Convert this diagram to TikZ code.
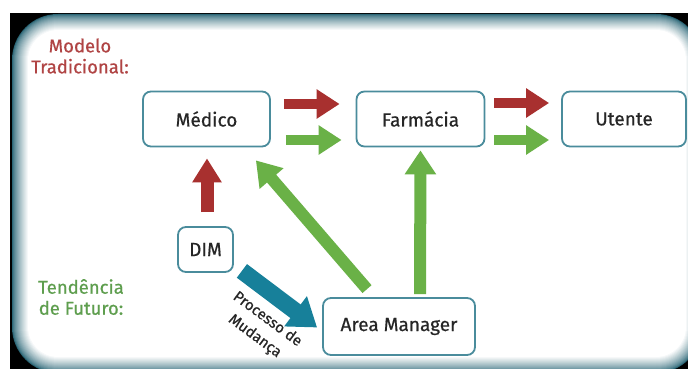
\documentclass[tikz,border=0pt]{standalone}
\usepackage{fontspec}
\setmainfont{Fira Sans}
\newfontfamily\medf{Fira Sans}[FakeBold=0.6]
\usetikzlibrary{arrows.meta,calc}
\definecolor{boxc}{HTML}{4A8C9C}
\definecolor{redA}{HTML}{A8302F}
\definecolor{greenA}{HTML}{6AB147}
\definecolor{tealA}{HTML}{17809A}
\definecolor{labR}{HTML}{B04444}
\definecolor{labG}{HTML}{5E9E4E}
\definecolor{glowc}{HTML}{2A6676}
\begin{document}
\begin{tikzpicture}[x=1pt,y=-1pt,
  box/.style={draw=boxc, line width=1.8pt, rounded corners=8pt, fill=white,
    font=\medf\fontsize{19}{22}\selectfont, text=black!85, inner sep=0pt},
  lab/.style={font=\medf\fontsize{18.5}{21}\selectfont, align=center},
  redar/.style={draw=redA, line width=10pt, -{Triangle[width=28pt,length=23pt]}},
  greenar/.style={draw=greenA, line width=10pt, -{Triangle[width=28pt,length=23pt]}},
  vred/.style={draw=redA, line width=13pt, -{Triangle[width=28pt,length=24pt]}},
  vgreen/.style={draw=greenA, line width=12pt, -{Triangle[width=30pt,length=24pt]}},
  tealar/.style={draw=tealA, line width=17pt, -{Triangle[width=36pt,length=27pt]}}
]
\fill[white] (0,0) rectangle (688,369);
\useasboundingbox (0,0) rectangle (688,369);
\fill[black] (10,13) rectangle (688,369);
\begin{scope}
\clip (10,13) rectangle (688,369);
\foreach \i in {0,...,16}{
  \pgfmathsetmacro{\p}{100*pow(\i/16,0.75)}
  \pgfmathsetmacro{\r}{46-\i}
  \fill[white!\p!glowc, rounded corners=\r pt] (12+\i,14+\i) rectangle (702-\i,373-\i);
}
\end{scope}

\node[lab, text=labR] (lab1) at (80,56) {Modelo\\Tradicional:};
\node[lab, text=labG] (lab2) at (81,297) {Tendência\\de Futuro:};

\node[box, minimum width=127pt, minimum height=55pt] (med) at (206.5,119) {Médico};
\node[box, minimum width=128pt, minimum height=55pt] (far) at (420.5,119) {Farmácia};
\node[box, minimum width=124pt, minimum height=55pt] (ute) at (624,119) {Utente};
\node[box, minimum width=55pt, minimum height=45pt] (dim) at (205.5,249.5) {DIM};
\node[box, minimum width=152pt, minimum height=57pt] (am) at (399,326.5) {Area Manager};

\draw[redar] ($(med.east)+(13,-15)$) -- ($(far.west)+(-16,-15)$);
\draw[greenar] ($(med.east)+(15,21)$) -- ($(far.west)+(-14,21)$);
\draw[redar] ($(far.east)+(9,-16)$) -- ($(ute.west)+(-12,-16)$);
\draw[greenar] ($(far.east)+(9,21)$) -- ($(ute.west)+(-12,21)$);

\draw[vred] ($(dim.north)+(1.5,-14)$) -- ($(med.south)+(0.5,11)$);
\draw[vgreen] ($(am.north)+(-32,-8)$) -- ($(med.south east)+(-15,13)$);
\draw[vgreen] ($(am.north)+(21,-3)$) -- ($(far.south)+(0,3)$);
\draw[tealar] ($(dim.south east)+(8,-2)$) -- ($(am.west)+(-5,1)$);

\node[font=\medf\fontsize{15}{21}\selectfont, rotate=-36.5, align=center, text=black!85] (proc) at (261,328) {Processo de\\Mudança};
\end{tikzpicture}
\end{document}
